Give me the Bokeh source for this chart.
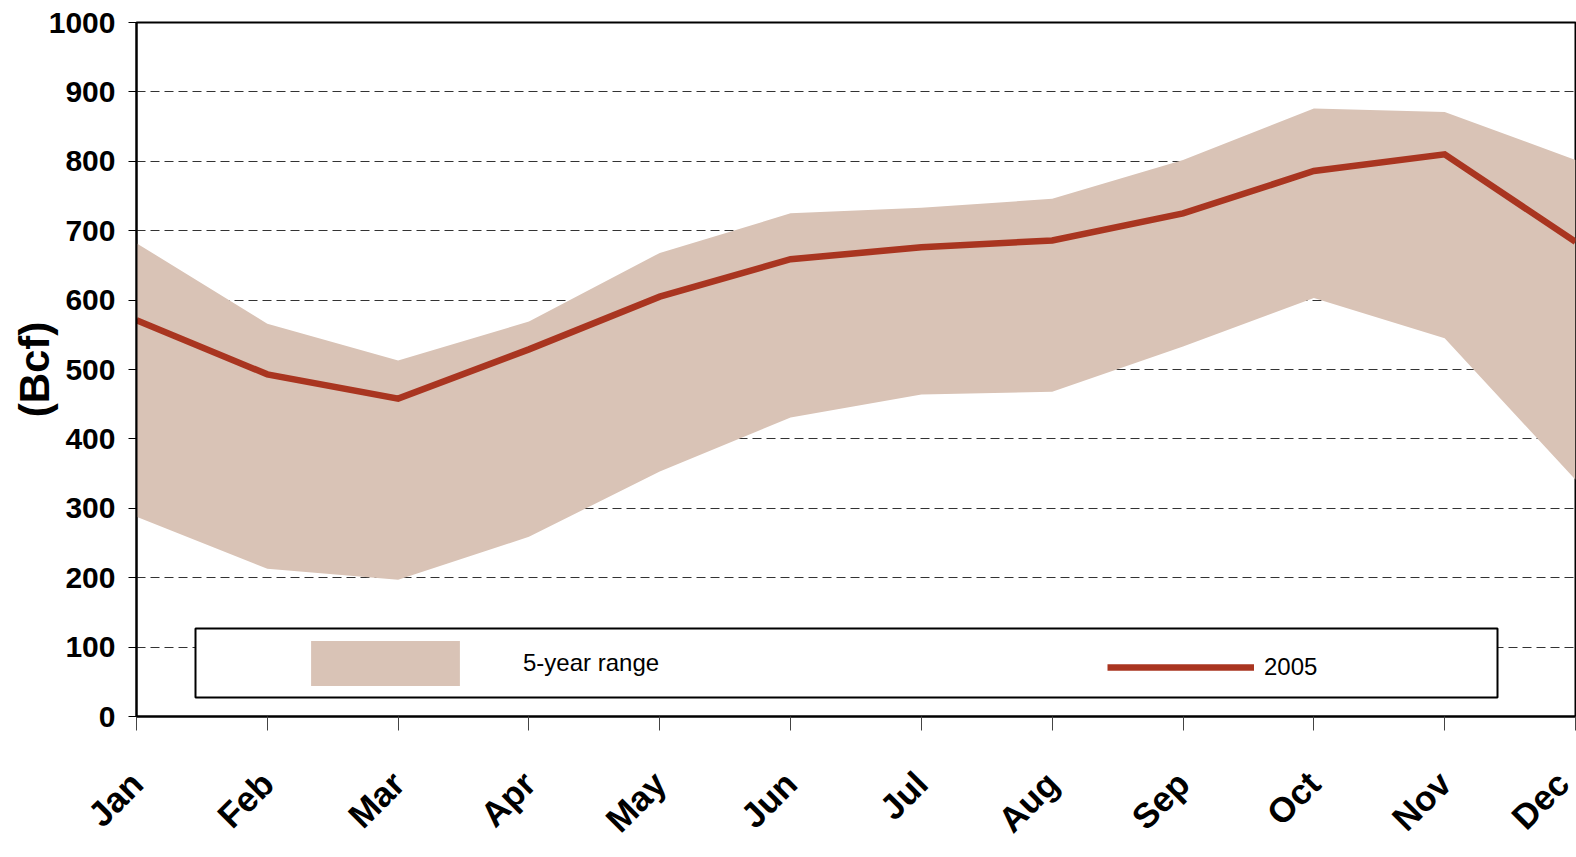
from math import pi
from bokeh.plotting import figure
from bokeh.models import (Range1d, FixedTicker, Legend, LegendItem, BoxAnnotation, Node,
                          ColumnDataSource)
from bokeh.embed import file_html
from bokeh.resources import INLINE

months = ["Jan", "Feb", "Mar", "Apr", "May", "Jun", "Jul", "Aug", "Sep", "Oct", "Nov", "Dec"]
month_idx = list(range(len(months)))
range_low = [288, 213, 197, 259, 353, 431, 464, 468, 533, 603, 545, 341]
range_high = [682, 566, 513, 569, 668, 725, 733, 746, 802, 876, 871, 802]
y2005 = [571, 493, 458, 529, 605, 659, 676, 686, 725, 786, 810, 684]
y_ticks = [0, 100, 200, 300, 400, 500, 600, 700, 800, 900, 1000]

BAND = "#D9C3B6"
LINE = "#A93520"

src = ColumnDataSource(dict(x=month_idx, lo=range_low, hi=range_high, v=y2005))

p = figure(width=1576, height=856, x_range=Range1d(0, 11), y_range=Range1d(0, 1000),
           output_backend="svg", toolbar_location=None,
           min_border_left=136, min_border_right=1, min_border_top=22, min_border_bottom=139)

p.background_fill_color = "white"
p.border_fill_color = "white"
p.outline_line_color = "black"
p.outline_line_width = 2
p.outline_line_alpha = 1

band = p.varea(x="x", y1="lo", y2="hi", source=src, fill_color=BAND, fill_alpha=1)
line = p.line(x="x", y="v", source=src, line_color=LINE, line_width=6.5, line_join="miter")

# axes
p.xaxis.ticker = FixedTicker(ticks=month_idx)
p.xaxis.major_label_overrides = {i: m for i, m in enumerate(months)}
p.xaxis.major_label_orientation = pi / 4
p.xaxis.major_label_text_font = "Liberation Sans"
p.xaxis.major_label_text_font_style = "bold"
p.xaxis.major_label_text_font_size = "35px"
p.xaxis.major_label_text_color = "black"
p.xaxis.major_label_standoff = 47
p.xaxis.major_tick_out = 14
p.xaxis.major_tick_in = 0
p.xaxis.major_tick_line_color = "#444444"
p.xaxis.minor_tick_line_color = None
p.xaxis.axis_line_color = "black"
p.xaxis.axis_line_width = 2

p.yaxis.ticker = FixedTicker(ticks=y_ticks)
p.yaxis.major_label_text_font = "Liberation Sans"
p.yaxis.major_label_text_font_style = "bold"
p.yaxis.major_label_text_font_size = "30px"
p.yaxis.major_label_text_color = "black"
p.yaxis.major_label_standoff = 13
p.yaxis.major_tick_out = 8
p.yaxis.major_tick_in = 0
p.yaxis.major_tick_line_color = "black"
p.yaxis.minor_tick_line_color = None
p.yaxis.axis_line_color = "black"
p.yaxis.axis_line_width = 2
p.yaxis.axis_label = "(Bcf)"
p.yaxis.axis_label_text_font = "Liberation Sans"
p.yaxis.axis_label_text_font_style = "bold"
p.yaxis.axis_label_text_font_size = "42px"
p.yaxis.axis_label_text_color = "black"
p.yaxis.axis_label_standoff = -12

p.xgrid.visible = False
p.ygrid.ticker = FixedTicker(ticks=y_ticks)
p.ygrid.grid_line_color = "#333333"
p.ygrid.grid_line_dash = "9 5"
p.ygrid.grid_line_width = 1

# legend frame
box = BoxAnnotation(left=Node(target="frame", symbol="left", offset=59),
                    right=Node(target="frame", symbol="left", offset=1361),
                    top=Node(target="frame", symbol="bottom", offset=-88),
                    bottom=Node(target="frame", symbol="bottom", offset=-19),
                    fill_color="white", fill_alpha=1,
                    line_color="black", line_width=2, line_alpha=1)
p.add_layout(box)

leg_band = Legend(items=[LegendItem(label="5-year range", renderers=[band])],
                  location=(156, 25), orientation="horizontal", padding=0, margin=0,
                  border_line_color=None, background_fill_alpha=0,
                  glyph_width=186, glyph_height=56, label_standoff=45,
                  label_text_font="Liberation Sans", label_text_font_size="24px",
                  label_text_color="black")
leg_line = Legend(items=[LegendItem(label="2005", renderers=[line])],
                  location=(971, 35), orientation="horizontal", padding=0, margin=0,
                  border_line_color=None, background_fill_alpha=0,
                  glyph_width=147, glyph_height=20, label_standoff=10,
                  label_text_font="Liberation Sans", label_text_font_size="24px",
                  label_text_color="black")
p.add_layout(leg_band)
p.add_layout(leg_line)

open("out.html", "w").write(file_html(p, INLINE))
